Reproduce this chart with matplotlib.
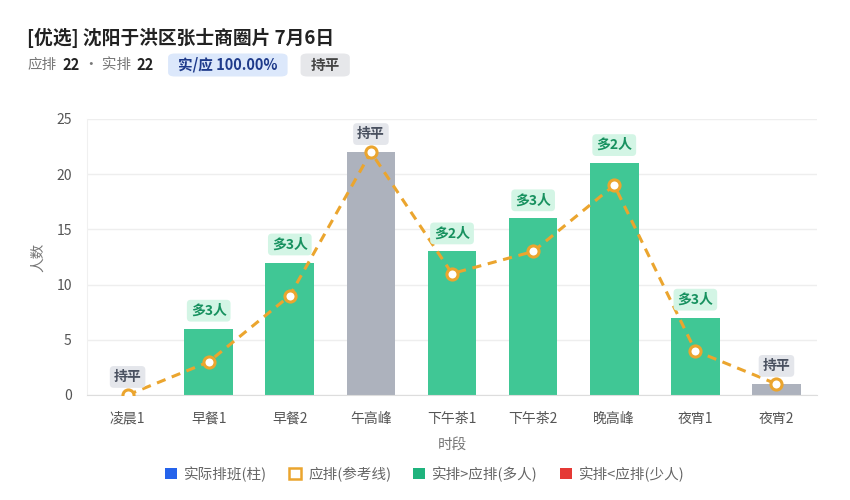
import matplotlib
matplotlib.use("Agg")
import matplotlib.pyplot as plt
from matplotlib.patches import Patch, FancyBboxPatch

plt.rcParams["font.family"] = ["Noto Sans CJK SC", "DejaVu Sans"]

slots   = ["凌晨1", "早餐1", "早餐2", "午高峰", "下午茶1", "下午茶2", "晚高峰", "夜宵1", "夜宵2"]
planned = [0, 3, 9, 22, 11, 13, 19, 4, 1]
actual  = [0, 6, 12, 22, 13, 16, 21, 7, 1]

GREEN, GRAY, RED = "#40c795", "#adb2bd", "#e5484d"
ORANGE = "#eba52e"


def subtitle(fig, y, pieces):
    """Lay text pieces out left to right; pieces with a colour get a rounded badge."""
    fig.canvas.draw()
    renderer = fig.canvas.get_renderer()
    W, H = fig.bbox.width, fig.bbox.height
    x_pix = 0.032 * W
    for txt, gap, kw, badge in pieces:
        x_pix += gap
        padx = 10 if badge else 0
        t = fig.text((x_pix + padx) / W, y, txt, va="center", ha="left", zorder=3, **kw)
        bb = t.get_window_extent(renderer)
        if badge:
            h = 23
            fig.patches.append(FancyBboxPatch(
                (x_pix / W, (y * H - h / 2) / H), (bb.width + 2 * padx) / W, h / H,
                boxstyle="round,pad=0,rounding_size=0.008", fc=badge, ec="none",
                transform=fig.transFigure, figure=fig, zorder=1))
        x_pix += bb.width + 2 * padx


def main() -> None:
    fig = plt.figure(figsize=(8.5, 5), dpi=100)
    ax = fig.add_axes([0.1024, 0.21, 0.8588, 0.552])

    x = list(range(len(slots)))
    colors = [GREEN if a > p else RED if a < p else GRAY for a, p in zip(actual, planned)]
    ax.bar(x, actual, width=0.6, color=colors, zorder=2)
    ax.plot(x, planned, color=ORANGE, lw=2.2, ls=(0, (3, 2.2)), zorder=3,
            marker="o", ms=8, mfc="white", mec=ORANGE, mew=2.2)

    for xi, a, p in zip(x, actual, planned):
        d = a - p
        if d > 0:
            txt, fc, tc = f"多{d}人", "#d3f5e5", "#17915f"
        elif d < 0:
            txt, fc, tc = f"少{-d}人", "#fde2e2", "#c62828"
        else:
            txt, fc, tc = "持平", "#e4e6eb", "#4a5160"
        ax.annotate(txt, (xi, max(a, p)), xytext=(0, 13), textcoords="offset points",
                    ha="center", va="center", fontsize=10, fontweight="bold", color=tc,
                    bbox=dict(boxstyle="round,pad=0.28", fc=fc, ec="none"), zorder=4)

    ax.set_xlim(-0.5, len(slots) - 0.5)
    ax.set_ylim(0, 25)
    ax.set_yticks([0, 5, 10, 15, 20, 25])
    ax.set_xticks(x)
    ax.set_xticklabels(slots)
    ax.tick_params(axis="both", length=0, labelsize=10, colors="#555555")
    ax.tick_params(axis="x", pad=12)
    ax.tick_params(axis="y", pad=11)
    ax.grid(axis="y", color="#eeeeee", lw=1, zorder=0)
    for s in ("top", "right"):
        ax.spines[s].set_visible(False)
    ax.spines["bottom"].set_color("#dddddd")
    ax.spines["left"].set_color("#f0f0f0")
    ax.set_xlabel("时段", fontsize=10.5, color="#777777", labelpad=9)
    ax.set_ylabel("人数", fontsize=10.5, color="#777777", labelpad=8)

    fig.text(0.032, 0.925, "[优选] 沈阳于洪区张士商圈片 7月6日", fontsize=13.5,
             fontweight="bold", color="#222222", va="center")

    plain = dict(fontsize=10.5, color="#777777")
    bold = dict(fontsize=10.5, color="#222222", fontweight="bold")
    subtitle(fig, 0.87, [
        ("应排", 0, plain, None),
        ("22", 6, bold, None),
        ("· 实排", 4, plain, None),
        ("22", 6, bold, None),
        ("实/应 100.00%", 14, dict(fontsize=10.5, color="#1e3a8a", fontweight="bold"), "#dce8fb"),
        ("持平", 13, dict(fontsize=10.5, color="#444444", fontweight="bold"), "#e6e7ea"),
    ])

    handles = [
        Patch(fc="#2563eb", ec="none", label="实际排班(柱)"),
        Patch(fc="white", ec=ORANGE, lw=1.8, label="应排(参考线)"),
        Patch(fc="#1fb37d", ec="none", label="实排>应排(多人)"),
        Patch(fc="#e53935", ec="none", label="实排<应排(少人)"),
    ]
    fig.legend(handles=handles, loc="center", bbox_to_anchor=(0.5, 0.052), ncol=4,
               frameon=False, fontsize=10.5, handlelength=0.8, handleheight=0.8,
               handletextpad=0.5, columnspacing=1.5, labelcolor="#666666")

    fig.savefig("out.png", dpi=100)
    plt.close(fig)


if __name__ == "__main__":
    main()
